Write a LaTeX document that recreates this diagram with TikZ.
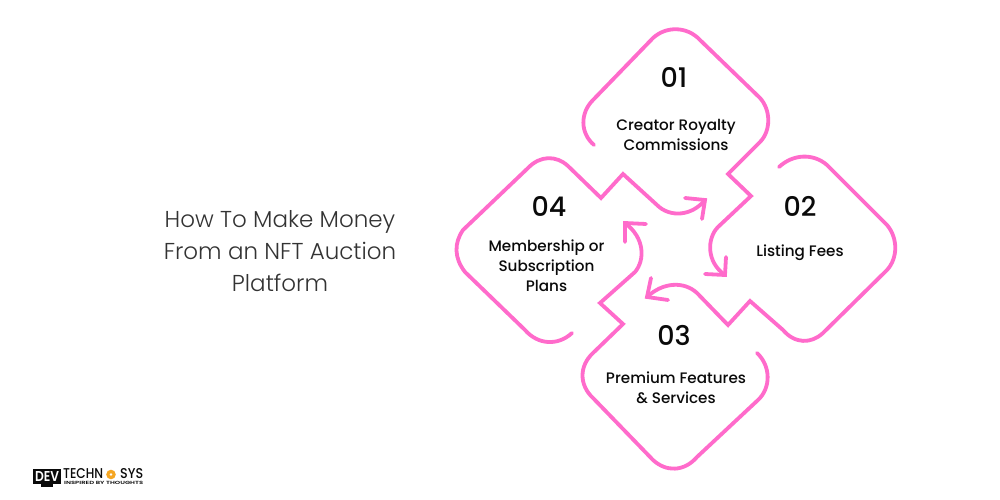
\documentclass[tikz,border=0pt]{standalone}
\usepackage{fontspec}
\usepackage{graphicx}
\setmainfont{Poppins}
\newfontfamily\medfont{Poppins Medium}
\newfontfamily\lightfont{Poppins Light}
\newfontfamily\boldfont{Poppins SemiBold}
\definecolor{ribbon}{HTML}{FF6BCB}
\definecolor{ink}{HTML}{0A0A0A}
\definecolor{titleink}{HTML}{333333}
\definecolor{gearorange}{HTML}{F5A623}
\tikzset{
  ribbonline/.style={draw=ribbon,line width=3.8pt,line cap=round,line join=miter,fill=none},
  numlabel/.style={font=\medfont\fontsize{27}{27}\selectfont,text=ink,inner sep=0pt,anchor=center},
  bodylabel/.style={font=\medfont\fontsize{15.2}{20}\selectfont,text=ink,inner sep=0pt,align=center,anchor=center},
  titlelabel/.style={font=\lightfont\fontsize{23}{32}\selectfont,text=titleink,inner sep=0pt,align=center,anchor=center},
  logolabel/.style={font=\medfont,text=ink,inner sep=0pt,anchor=west},
}
\begin{document}
\begin{tikzpicture}[x=1pt,y=-1pt]
\useasboundingbox (0,0) rectangle (1000,500);
\fill[white] (0,0) rectangle (1000,500);
% 01
\draw[ribbonline] (594,145) .. controls (580,133) and (580,113) .. (593,100) -- (653,38)
  .. controls (666,26) and (687,26) .. (700,40) -- (760,98)
  .. controls (771,110) and (771,131) .. (760,142) -- (728,174) -- (751,196) -- (718,227)
  .. controls (707,238) and (706,262) .. (725,275);
\draw[ribbonline] (705,274) -- (725,275) -- (726,257);
% 02
\draw[ribbonline] (779,167) .. controls (793,154) and (813,153) .. (827,165) -- (887,225)
  .. controls (898,238) and (898,258) .. (887,270) -- (823,333)
  .. controls (811,344) and (795,344) .. (783,330) -- (750,301) -- (728,325) -- (697,293)
  .. controls (684,281) and (663,282) .. (647,297);
\draw[ribbonline] (668,300) -- (647,297) -- (651,278);
% 03
\draw[ribbonline] (757,353) .. controls (771,366) and (771,388) .. (758,400) -- (697,457)
  .. controls (684,472) and (666,472) .. (653,460) -- (593,398)
  .. controls (579,385) and (579,366) .. (593,353) -- (623,324) -- (600,303) -- (635,272)
  .. controls (645,260) and (645,238) .. (625,223);
\draw[ribbonline] (625,242) -- (625,223) -- (646,224);
% 04
\draw[ribbonline] (572,333) .. controls (558,346) and (538,345) .. (525,330) -- (465,272)
  .. controls (454,258) and (454,243) .. (463,230) -- (528,168)
  .. controls (540,155.5) and (556,155) .. (568,166) -- (601,198) -- (623,174) -- (657,205)
  .. controls (670,218) and (692,216) .. (705,200);
\draw[ribbonline] (685,198) -- (705,200) -- (702,219);
% labels
\node[numlabel] (n1) at (674,77) {01};
\node[bodylabel] (t1) at (676,135) {Creator Royalty\\Commissions};
\node[numlabel] (n2) at (800,206) {02};
\node[bodylabel] (t2) at (800,253) {Listing Fees};
\node[numlabel] (n3) at (674,335) {03};
\node[bodylabel] (t3) at (676,388) {Premium Features\\\& Services};
\node[numlabel] (n4) at (549,206) {04};
\node[bodylabel] (t4) at (546.5,266) {Membership or\\Subscription\\Plans};
\node[titlelabel] (title) at (280,251) {How To Make Money\\From an NFT Auction\\Platform};
% logo
\fill[ink] (33,469) rectangle (61,484);
\fill[ink] (41,484) rectangle (53,486.5);
\node[font=\boldfont,text=white,inner sep=0pt] (logoa) at (47,476.5) {\resizebox{24pt}{10pt}{DEV}};
\node[logolabel] (logob) at (63,474) {\resizebox{40pt}{10pt}{TECHN}};
\node[logolabel] (logoc) at (120,474) {\resizebox{23pt}{10pt}{SYS}};
\fill[gearorange] (111,474.5) circle (4.8pt);
\fill[white] (111,474.5) circle (1.4pt);
\node[logolabel,font=\boldfont] (logod) at (64,482.7) {\resizebox{79pt}{3.2pt}{INSPIRED BY THOUGHTS}};
\end{tikzpicture}
\end{document}
